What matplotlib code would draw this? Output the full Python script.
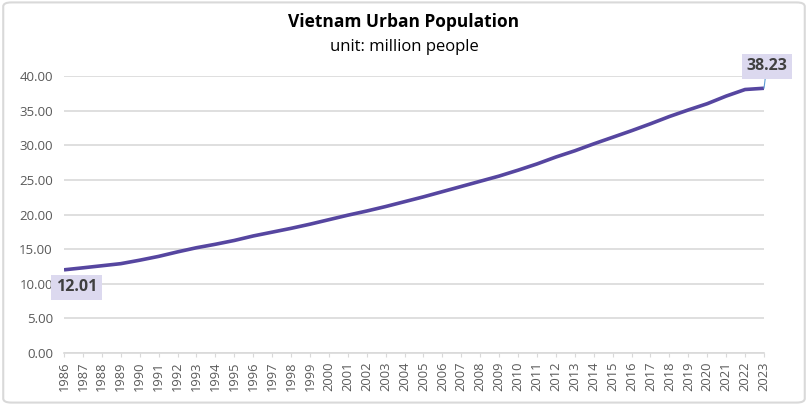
import matplotlib
matplotlib.use("Agg")
import matplotlib.pyplot as plt
from matplotlib.patches import FancyBboxPatch

years = list(range(1986, 2024))
urban_pop = [12.01, 12.3, 12.6, 12.9, 13.4, 13.95, 14.6, 15.2, 15.7, 16.25,
             16.9, 17.45, 18.0, 18.6, 19.25, 19.9, 20.5, 21.15, 21.85, 22.55,
             23.3, 24.05, 24.8, 25.55, 26.4, 27.3, 28.3, 29.2, 30.2, 31.15,
             32.1, 33.1, 34.15, 35.1, 36.0, 37.1, 38.05, 38.23]
y_ticks = [0, 5, 10, 15, 20, 25, 30, 35, 40]

plt.rcParams['font.family'] = ['Open Sans', 'DejaVu Sans']

fig = plt.figure(figsize=(8.08, 4.05), dpi=100)
ax = fig.add_axes([64 / 808, 52 / 405, 700 / 808, 277 / 405])

# rounded frame around the whole chart
frame = FancyBboxPatch((0.004, 0.006), 0.992, 0.988, boxstyle="round,pad=0,rounding_size=0.01",
                       transform=fig.transFigure, facecolor='white', edgecolor='#d9d9d9',
                       linewidth=1.5, zorder=-10)
fig.patches.append(frame)
ax.set_facecolor('none')

line_color = '#5646a0'
ax.plot(years, urban_pop, color=line_color, linewidth=2.6, solid_capstyle='butt', zorder=3)

ax.set_xlim(years[0], years[-1])
ax.set_ylim(0, 40)
ax.set_yticks(y_ticks)
ax.set_yticklabels(['%.2f' % v for v in y_ticks])
ax.set_xticks(years)
ax.set_xticklabels([str(y) for y in years], rotation=90)

ax.grid(axis='y', color='#d9d9d9', linewidth=1.2)
ax.set_axisbelow(True)
for s in ['top', 'right', 'left']:
    ax.spines[s].set_visible(False)
ax.spines['bottom'].set_color('#d9d9d9')
ax.spines['bottom'].set_linewidth(1.2)
ax.tick_params(axis='y', length=0, pad=8, labelsize=9.5, labelcolor='#595959')
ax.tick_params(axis='x', length=3, color='#d9d9d9', pad=3, labelsize=9.3, labelcolor='#595959')

box = dict(boxstyle='square,pad=0.28', facecolor='#dcd9ef', edgecolor='none')
ax.annotate('%.2f' % urban_pop[0], xy=(years[0], urban_pop[0]), xytext=(9, -12.5),
            textcoords='offset points', ha='center', va='center', fontsize=11.5,
            fontweight='bold', color='#404040', bbox=box, zorder=5, annotation_clip=False)
ax.annotate('%.2f' % urban_pop[-1], xy=(years[-1], urban_pop[-1]), xytext=(2, 16),
            textcoords='offset points', ha='center', va='center', fontsize=11.5,
            fontweight='bold', color='#404040', bbox=box, zorder=5, annotation_clip=False,
            arrowprops=dict(arrowstyle='-', color='#5b9bd5', linewidth=0.8, shrinkA=0, shrinkB=0))

fig.text(0.5, 0.945, 'Vietnam Urban Population', ha='center', va='center',
         fontsize=12.5, fontweight='bold', color='#000000')
fig.text(0.5, 0.885, 'unit: million people', ha='center', va='center',
         fontsize=12, color='#000000')

fig.savefig('out.png', dpi=100)
